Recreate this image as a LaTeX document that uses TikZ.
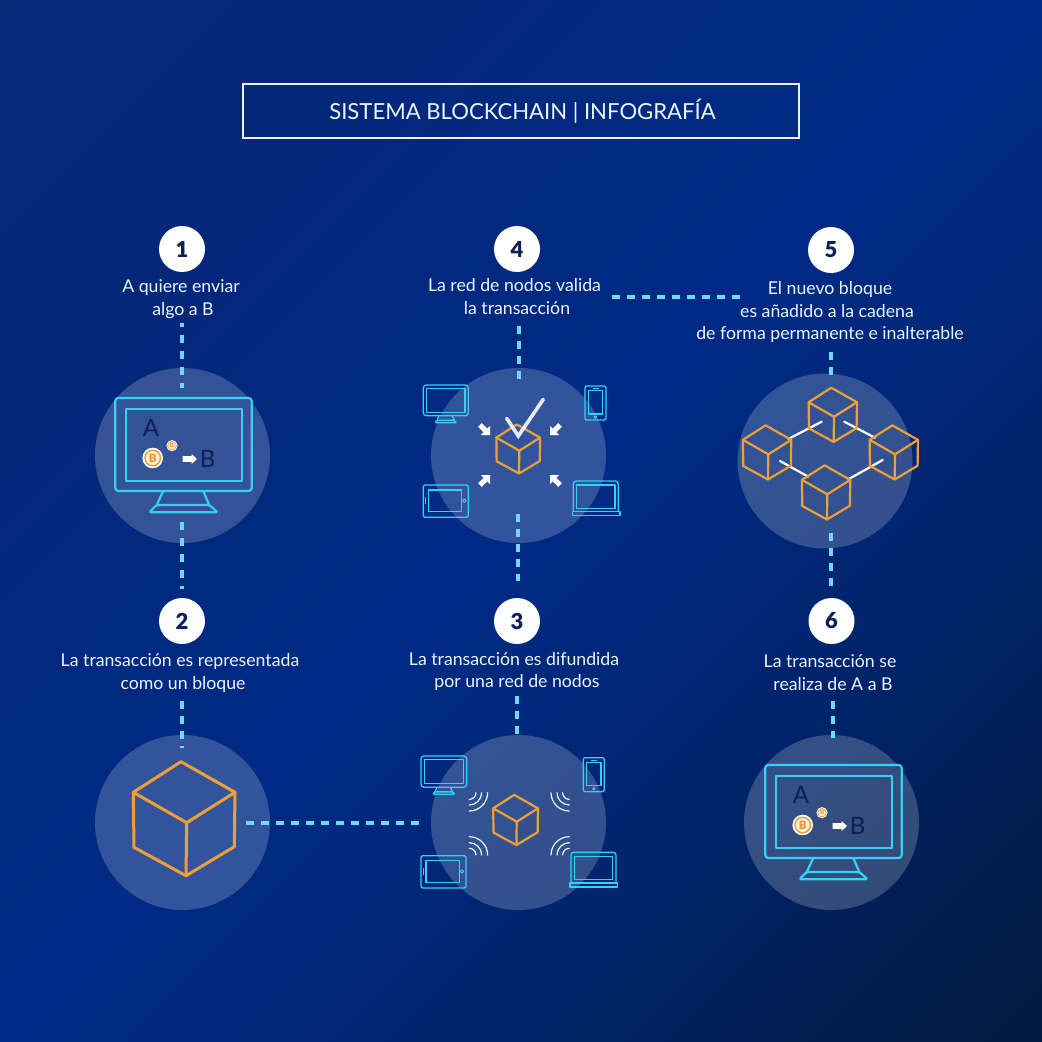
\documentclass[tikz,border=0pt]{standalone}
\usepackage{fontspec}
\setmainfont{Lato}
\newfontfamily\numfont{Lato Black}
\usetikzlibrary{shadings}
\definecolor{cyanline}{RGB}{52,208,248}
\definecolor{dashcol}{RGB}{112,216,250}
\definecolor{cubeor}{RGB}{238,160,54}
\definecolor{coinor}{RGB}{240,150,30}
\definecolor{coinin}{RGB}{250,240,225}
\definecolor{navy}{RGB}{12,32,84}
\definecolor{paper}{RGB}{236,245,255}
\definecolor{bga}{RGB}{0,26,62}
\definecolor{bgb}{RGB}{0,28,72}
\definecolor{bgc}{RGB}{0,36,106}
\definecolor{bgd}{RGB}{0,42,134}
\definecolor{bge}{RGB}{3,40,122}
\definecolor{bgf}{RGB}{8,42,114}
\pgfdeclareverticalshading{bgshade}{100bp}{
  color(0bp)=(bga);
  color(12bp)=(bga);
  color(20bp)=(bgb);
  color(33bp)=(bgc);
  color(50bp)=(bgd);
  color(70bp)=(bge);
  color(100bp)=(bgf)}
\tikzset{
  disc/.style={circle,fill=white,fill opacity=.2,minimum size=175pt,inner sep=0pt},
  badge/.style={circle,fill=white,minimum size=46pt,inner sep=0pt,text=navy,font=\fontsize{22}{22}\selectfont\numfont},
  label/.style={text=paper,align=center,font=\fontsize{17.7}{22.8}\selectfont,inner sep=0pt},
  dashv/.style={draw=dashcol,line width=4pt,dash pattern=on 7.5pt off 7.5pt},
  devline/.style={draw=cyanline,line width=#1,line join=round},
  cubeline/.style={draw=cubeor,line width=#1,line join=round,line cap=round},
  waveline/.style={draw=white!90!cyan,line width=1.2pt,line cap=round},
  linkline/.style={draw=white,line width=2.2pt,line cap=round},
  letter/.style={text=navy,font=\fontsize{24}{24}\selectfont,inner sep=0pt}
}
\newcommand{\devmonitor}[4]{%
  \begin{scope}[shift={(#1,#2)},scale=#3]
    \draw[devline=#4,rounded corners=3pt] (0,0) rectangle (136.4,93);
    \draw[devline=#4] (10.4,10.7) rectangle (126.7,82.7);
    \draw[devline=#4] (48,93) -- (41.4,107) (88,93) -- (94,107);
    \draw[devline=#4,rounded corners=1.5pt] (41.4,107) -- (94,107) -- (102.4,114.3) -- (34,114.3) -- cycle;
  \end{scope}}
\newcommand{\devphone}[2]{%
  \begin{scope}[shift={(#1,#2)}]
    \draw[devline=1.3pt,rounded corners=2pt] (0,0) rectangle (21,34);
    \draw[devline=1.3pt] (3.3,4.7) rectangle (17.7,28);
    \draw[devline=1pt] (7.5,2.4) -- (13.5,2.4);
    \draw[devline=1pt] (10.5,31) circle (1.2);
  \end{scope}}
\newcommand{\devtablet}[2]{%
  \begin{scope}[shift={(#1,#2)}]
    \draw[devline=1.3pt,rounded corners=2pt] (0,0) rectangle (45,32.3);
    \draw[devline=1.3pt] (5,5) rectangle (38.4,26.7);
    \draw[devline=1pt] (41,15.7) circle (1.7);
    \draw[devline=1pt] (2.4,12.2) -- (2.4,19.2);
  \end{scope}}
\newcommand{\devlaptop}[2]{%
  \begin{scope}[shift={(#1,#2)}]
    \draw[devline=1.3pt,rounded corners=3pt] (0,30.7) -- (0,0) -- (45,0) -- (45,30.7);
    \draw[devline=1.3pt] (3.3,4) rectangle (41.7,27.3);
    \draw[devline=1.3pt] (-1,30.7) rectangle (46.7,34.7);
  \end{scope}}
\newcommand{\cubeicon}[4]{%
  \begin{scope}[shift={(#1,#2)},scale=#3]
    \draw[cubeline=#4] (-5.7,-61) -- (48.3,-30.4) -- (47.6,24) -- (-0.7,53) -- (-52.7,24.6) -- (-53.4,-30.4) -- cycle;
    \draw[cubeline=#4] (-53.4,-30.4) -- (0,0) -- (48.3,-30.4) (0,0) -- (-0.7,53);
  \end{scope}}
\newcommand{\coin}[5]{% name x y radius fontsize
  \fill[white] (#2,#3) circle (#4);
  \fill[coinor] (#2,#3) circle ({#4*0.82});
  \fill[coinin] (#2,#3) circle ({#4*0.68});
  \node[inner sep=0pt,text=coinor,font=\fontsize{#5}{#5}\selectfont\numfont] (#1) at (#2,#3) {B};}
\newcommand{\fatarrow}[4]{% x y angle scale
  \fill[white,shift={(#1,#2)},rotate=#3,scale=#4] (0,0) -- (-7,-7) -- (-7,-2.8) -- (-15.5,-2.8) -- (-15.5,2.8) -- (-7,2.8) -- (-7,7) -- cycle;}
\newcommand{\wifi}[4]{% x y xsign ysign
  \begin{scope}[shift={(#1,#2)},xscale=#3,yscale=#4]
    \draw[waveline] (6.7,0) arc[start angle=0,end angle=90,radius=6.7];
    \draw[waveline] (12.3,0) arc[start angle=0,end angle=90,radius=12.3];
    \draw[waveline] (18.3,0) arc[start angle=0,end angle=90,radius=18.3];
  \end{scope}}
\newcommand{\screenitems}[3]{% prefix x y
  \begin{scope}[shift={(#2,#3)}]
    \node[letter] (#1A) at (35.7,30) {A};
    \node[letter] (#1B) at (92.4,61.3) {B};
    \fill[white,shift={(81.7,61)}] (0,0) -- (-5.5,-5) -- (-5.5,-2.8) -- (-14.5,-2.8) -- (-14.5,2.8) -- (-5.5,2.8) -- (-5.5,5) -- cycle;
    \coin{#1c}{37.4}{60}{10.3}{11.5}
    \coin{#1d}{56.7}{47.7}{5.6}{6}
  \end{scope}}
\begin{document}
\begin{tikzpicture}[x=1pt,y=1pt,yscale=-1]
\useasboundingbox (0,0) rectangle (1042,1042);
\shade[shading=bgshade,shading angle=45] (0,0) rectangle (1042,1042);

% translucent discs
\node[disc] (c1) at (182.5,455.5) {};
\node[disc] (c4) at (518.5,455.5) {};
\node[disc] (c5) at (825,461) {};
\node[disc] (c2) at (182.5,822.5) {};
\node[disc] (c3) at (518.5,822.5) {};
\node[disc] (c6) at (831.5,822.5) {};

% title
\node[draw=paper,line width=2pt,minimum width=556.5pt,minimum height=54pt,inner sep=0pt,text=paper,font=\fontsize{22.1}{24}\selectfont] (title) at (520.75,111) {\hspace*{3.4pt}\raisebox{1pt}{SISTEMA BLOCKCHAIN | INFOGRAFÍA}};

% number badges
\node[badge] (n1) at (182,249) {1};
\node[badge] (n4) at (517,249) {4};
\node[badge] (n5) at (831,250) {5};
\node[badge] (n2) at (182,621) {2};
\node[badge] (n3) at (517,621) {3};
\node[badge] (n6) at (831.5,621) {6};

% labels
\node[label] (t1) at (181,299.5) {A quiere enviar\\\hspace*{4pt}algo a B};
\node[label] (t4) at (514.5,296.5) {La red de nodos valida\\\hspace*{5pt}la transacción};
\node[label] (t5) at (830,312) {El nuevo bloque\\\hspace*{-6pt}es añadido a la cadena\\de forma permanente e inalterable};
\node[label] (t2) at (180,672.7) {La transacción es representada\\\hspace*{6pt}como un bloque};
\node[label] (t3) at (514,671.5) {La transacción es difundida\\\hspace*{6pt}por una red de nodos};
\node[label] (t6) at (830,672.5) {La transacción se\\\hspace*{6pt}realiza de A a B};

% connector ends
\coordinate (d1a) at (182,323);  \coordinate (d1b) at (182,388);
\coordinate (d2a) at (182,522);  \coordinate (d2b) at (182,589);
\coordinate (d3a) at (182,701);  \coordinate (d3b) at (182,748);
\coordinate (d4a) at (246,822.5);\coordinate (d4b) at (421,822.5);
\coordinate (d5a) at (517,696);  \coordinate (d5b) at (517,734);
\coordinate (d6a) at (517.5,581);\coordinate (d6b) at (517.5,514);
\coordinate (d7a) at (518.7,326);\coordinate (d7b) at (518.7,379);
\coordinate (d8a) at (612,296.7);\coordinate (d8b) at (741,296.7);
\coordinate (d9a) at (831,352);  \coordinate (d9b) at (831,375);
\coordinate (d10a) at (831,533); \coordinate (d10b) at (831,590);
\coordinate (d11a) at (833,701); \coordinate (d11b) at (833,738);

\draw[dashv,dash phase=4pt,dash pattern=on 8pt off 8pt] (d1a) -- (d1b);
\draw[dashv,dash pattern=on 8pt off 8pt] (d2a) -- (d2b);
\draw[dashv] (d3a) -- (d3b);
\draw[dashv] (d4a) -- (d4b);
\draw[dashv] (d5a) -- (d5b);
\draw[dashv] (d6b) -- (d6a);
\draw[dashv] (d7a) -- (d7b);
\draw[dashv] (d8a) -- (d8b);
\draw[dashv] (d9a) -- (d9b);
\draw[dashv] (d10a) -- (d10b);
\draw[dashv] (d11a) -- (d11b);

% step 1 monitor
\devmonitor{115.3}{398}{1}{2.2pt}
\screenitems{m1}{115.3}{398}

% step 6 monitor
\devmonitor{765.3}{765}{1}{2.2pt}
\screenitems{m6}{765.3}{765}

% step 2 cube
\cubeicon{186.7}{822.7}{1}{3pt}

% step 4 group
\devmonitor{423.3}{385}{0.33}{1.3pt}
\devphone{585}{386}
\devtablet{423.3}{485}
\devlaptop{573.3}{481}
\cubeicon{519.3}{450.7}{0.43}{2.2pt}
\fatarrow{490}{435}{45}{0.92}
\fatarrow{550}{435}{135}{0.92}
\fatarrow{490}{475}{-45}{0.92}
\fatarrow{550}{475}{-135}{0.92}
\draw[draw=white,draw opacity=.88,line width=3.6pt,line cap=round,line join=miter] (506.7,418.3) -- (518.3,436) -- (543.3,399.3);

% step 3 group
\devmonitor{421}{756}{0.335}{1.3pt}
\devphone{583.3}{757.7}
\devtablet{421}{855.7}
\devlaptop{571}{852.3}
\cubeicon{516.7}{821.7}{0.44}{2.2pt}
\wifi{469.3}{792.7}{1}{1}
\wifi{569.3}{792.7}{-1}{1}
\wifi{469.3}{855}{1}{-1}
\wifi{569.3}{855}{-1}{-1}

% step 5 chain
\draw[linkline] (788.3,439) -- (821.7,421.7);
\draw[linkline] (844.3,421.7) -- (875,437.7);
\draw[linkline] (780,461) -- (808.3,476.7);
\draw[linkline] (848.3,479.3) -- (882.7,460);
\cubeicon{834}{416.7}{0.475}{2.2pt}
\cubeicon{768.3}{454.3}{0.475}{2.2pt}
\cubeicon{895}{454.3}{0.475}{2.2pt}
\cubeicon{827.3}{494.3}{0.475}{2.2pt}
\end{tikzpicture}
\end{document}
